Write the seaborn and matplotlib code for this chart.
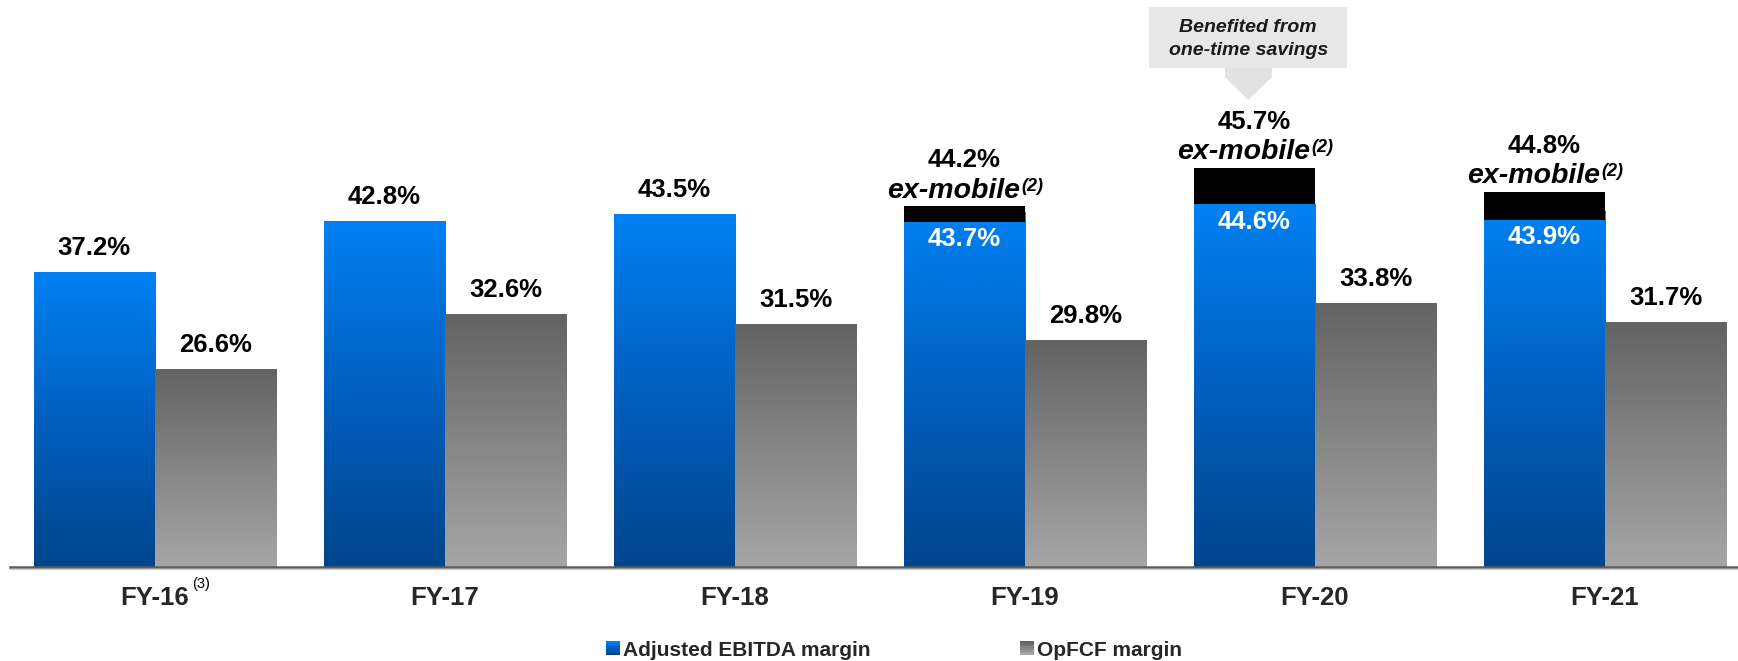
import numpy as np
import pandas as pd
import matplotlib
matplotlib.use('Agg')
import matplotlib.pyplot as plt
import seaborn as sns
from matplotlib.patches import Rectangle, Polygon, Patch
from matplotlib.colors import LinearSegmentedColormap
from matplotlib.legend_handler import HandlerBase

# ---------------- data ----------------
years = ['FY-16', 'FY-17', 'FY-18', 'FY-19', 'FY-20', 'FY-21']
ebitda = [37.2, 42.8, 43.5, 43.7, 44.6, 43.9]
opfcf = [26.6, 32.6, 31.5, 29.8, 33.8, 31.7]
series = ['Adjusted EBITDA margin', 'OpFCF margin']
exm_years = ['FY-19', 'FY-20', 'FY-21']
exm_values = [44.2, 45.7, 44.8]
exm_box_bottom = [42.7, 44.6, 42.9]
exm_box_top = [44.4, 48.6, 46.0]
exm_text = 'ex-mobile'
exm_note = '(2)'
fy16_note = '(3)'
callout_year = 'FY-20'
callout_text = 'Benefited from\none-time savings'

# ---------------- style ----------------
sns.set_theme(style='white')
plt.rcParams['font.family'] = ['Liberation Sans', 'DejaVu Sans']

W, H = 1738, 661
fig = plt.figure(figsize=(W / 100, H / 100), dpi=100)
AX_BOTTOM_PX = 566.7
ax = fig.add_axes([10 / W, (H - AX_BOTTOM_PX) / H, (W - 10) / W, AX_BOTTOM_PX / H])

YMIN = 5.0
YMAX = YMIN + AX_BOTTOM_PX / 9.15

df = pd.DataFrame({
    'year': years * 2,
    'metric': [series[0]] * len(years) + [series[1]] * len(years),
    'value': ebitda + opfcf,
})
sns.barplot(data=df, x='year', y='value', hue='metric', hue_order=series, order=years,
            palette=['#0070dd', '#858585'], width=0.836, saturation=1, legend=False,
            errorbar=None, ax=ax)

blue_cmap = LinearSegmentedColormap.from_list('bl', ['#00458c', '#005fbf', '#0081f2'])
grey_cmap = LinearSegmentedColormap.from_list('gr', ['#a6a6a6', '#858585', '#636363'])
grad = np.linspace(0, 1, 256).reshape(-1, 1)

for cont, cmap in zip(ax.containers, [blue_cmap, grey_cmap]):
    for p in cont.patches:
        x, w, top = p.get_x(), p.get_width(), p.get_y() + p.get_height()
        ax.imshow(grad, extent=[x, x + w, YMIN, top], origin='lower', aspect='auto',
                  cmap=cmap, zorder=2, interpolation='bilinear')
        p.set_visible(False)

blue_patches = ax.containers[0].patches
grey_patches = ax.containers[1].patches

# ex-mobile black boxes
for yr, b, t in zip(exm_years, exm_box_bottom, exm_box_top):
    p = blue_patches[years.index(yr)]
    ax.bar(p.get_x() + p.get_width() / 2, t - b, bottom=b, width=p.get_width(),
           color='black', zorder=3, linewidth=0)

VAL_FS = 18.5
bold = dict(fontweight='bold', fontsize=VAL_FS, color='black')

for i, yr in enumerate(years):
    pb = blue_patches[i]
    cx = pb.get_x() + pb.get_width() / 2
    if yr in exm_years:
        j = exm_years.index(yr)
        ax.annotate(f'{ebitda[i]:.1f}%', (cx, exm_box_bottom[j]), xytext=(0, -12.5),
                    textcoords='offset points', ha='center', va='center',
                    fontweight='bold', fontsize=VAL_FS, color='white', zorder=5)
        ax.annotate(f'{exm_values[j]:.1f}%', (cx, exm_box_top[j]), xytext=(0, 28),
                    textcoords='offset points', ha='center', va='baseline', **bold)
        t = ax.annotate(exm_text, (cx, exm_box_top[j]), xytext=(-8, 6),
                        textcoords='offset points', ha='center', va='baseline',
                        fontweight='bold', fontstyle='italic', fontsize=20.5, color='black')
        ax.annotate(exm_note, xy=(1, 1), xycoords=t, xytext=(1, 0),
                    textcoords='offset points', ha='left', va='top',
                    fontweight='bold', fontstyle='italic', fontsize=13, color='black')
    else:
        ax.annotate(f'{ebitda[i]:.1f}%', (cx, ebitda[i]), xytext=(0, 12.2),
                    textcoords='offset points', ha='center', va='baseline', **bold)
    pg = grey_patches[i]
    gx = pg.get_x() + pg.get_width() / 2
    ax.annotate(f'{opfcf[i]:.1f}%', (gx, opfcf[i]), xytext=(0, 12.2),
                textcoords='offset points', ha='center', va='baseline', **bold)

ax.set_ylim(YMIN, YMAX)
ax.set_xlim(-0.5, 5.459)
ax.set_xlabel('')
ax.set_ylabel('')
ax.set_yticks([])
ax.tick_params(axis='x', length=0, pad=14, labelsize=18.5)
for lbl in ax.get_xticklabels():
    lbl.set_fontweight('bold')
for s in ['left', 'right', 'top']:
    ax.spines[s].set_visible(False)
ax.spines['bottom'].set_color('#5c5c5c')
ax.spines['bottom'].set_linewidth(1.8)
ax.spines['bottom'].set_zorder(4)

# ---------------- callout ----------------
def fx(x):
    return x / W

def fy(y):
    return 1 - y / H

# faint shadow under the axis line
fig.add_artist(plt.Line2D([fx(10), fx(W)], [fy(569), fy(569)], transform=fig.transFigure,
                          color='#d0d0d0', linewidth=1.0))

pc = blue_patches[years.index(callout_year)]
cpx = ax.transData.transform((pc.get_x() + pc.get_width() / 2, YMIN))[0] - 6
box_w = 198
fig.patches.append(Rectangle((fx(cpx - box_w / 2), fy(68)), box_w / W, (68 - 7) / H,
                             transform=fig.transFigure, facecolor='#e7e7e7',
                             edgecolor='none', zorder=1))
arrow_pts = [(cpx - 23.5, 68), (cpx + 23.5, 68), (cpx + 23.5, 77), (cpx, 100), (cpx - 23.5, 77)]
fig.patches.append(Polygon([(fx(a), fy(b)) for a, b in arrow_pts], closed=True,
                           transform=fig.transFigure, facecolor='#e2e2e2',
                           edgecolor='none', zorder=1))
fig.text(fx(cpx), fy(39), callout_text, ha='center', va='center', fontsize=14,
         fontweight='bold', fontstyle='italic', color='#1a1a1a', linespacing=1.5, zorder=2)

# ---------------- legend ----------------
class GradHandler(HandlerBase):
    def __init__(self, cmap, n=8):
        super().__init__()
        self.cmap = cmap
        self.n = n

    def create_artists(self, legend, orig_handle, xdescent, ydescent, width, height,
                       fontsize, trans):
        arts = []
        for k in range(self.n):
            arts.append(Rectangle((-xdescent, -ydescent + height * k / self.n), width,
                                  height / self.n + 0.3, facecolor=self.cmap(k / (self.n - 1)),
                                  edgecolor='none', transform=trans))
        return arts

h1 = Patch(label=series[0])
h2 = Patch(label=series[1])
fig.legend(handles=[h1, h2], handler_map={h1: GradHandler(blue_cmap), h2: GradHandler(grey_cmap)},
           loc='center left', bbox_to_anchor=(fx(606), fy(650)), ncol=2, frameon=False,
           prop={'weight': 'bold', 'size': 15}, handlelength=0.65, handleheight=0.65,
           handletextpad=0.15, columnspacing=7.2, borderpad=0, borderaxespad=0)

# FY-16 superscript note
fig.canvas.draw()
bb = ax.get_xticklabels()[0].get_window_extent()
fig.text(fx(bb.x1 + 3), (bb.y1 + 9) / H, fy16_note, ha='left', va='top', fontsize=10.5,
         color='black')

fig.savefig('out.png', dpi=100)
